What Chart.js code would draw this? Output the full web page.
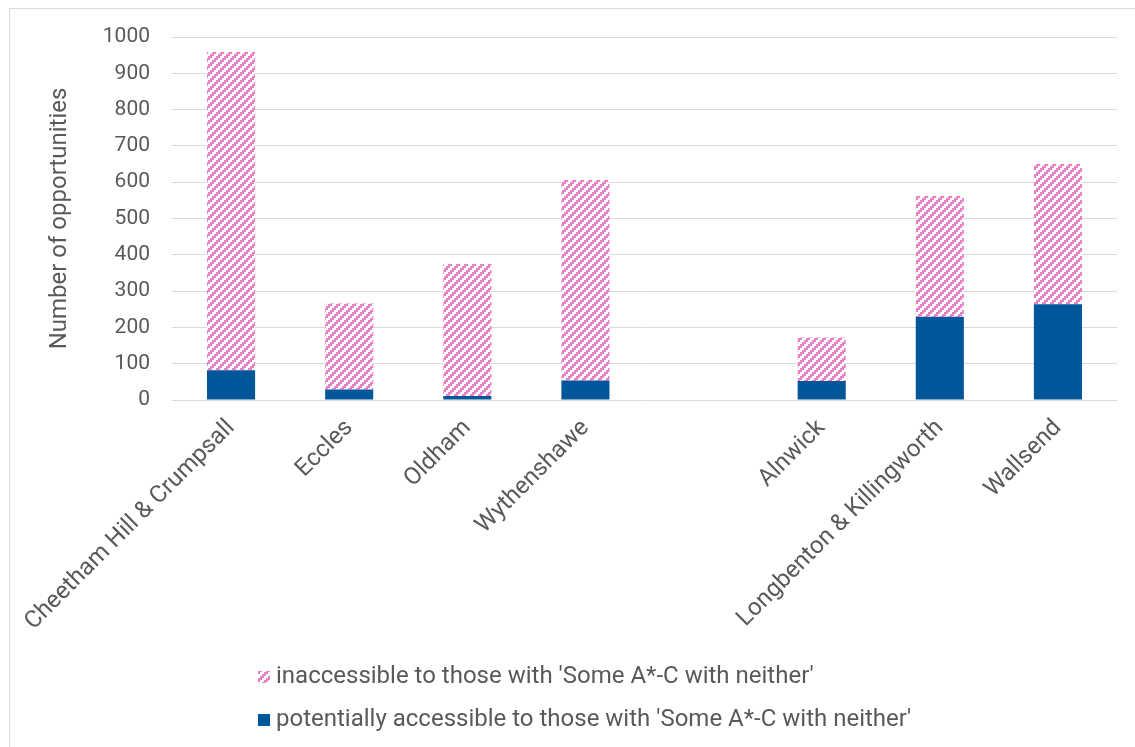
<!DOCTYPE html>
<html>
<head>
<meta charset="utf-8">
<script src="https://cdn.jsdelivr.net/npm/chart.js@4/dist/chart.umd.min.js"></script>
<style>
  html, body { margin: 0; padding: 0; background: #fff; }
  canvas { display: block; }
</style>
</head>
<body>
<canvas id="c" width="1135" height="747"></canvas>
<script>
// Ward categories (blank slot separates the two areas)
const categories = ['Cheetham Hill & Crumpsall', 'Eccles', 'Oldham', 'Wythenshawe', '', 'Alnwick', 'Longbenton & Killingworth', 'Wallsend'];
// Opportunities potentially accessible (lower stack)
const accessible = [82, 29, 11, 54, null, 52, 229, 264];
// Opportunities inaccessible (upper stack)
const inaccessible = [877, 237, 364, 552, null, 120, 333, 386];
// Y axis range and step
const yMin = 0;
const yMax = 1000;
const yStep = 100;

const seriesLabels = [
  "potentially accessible to those with 'Some A*-C with neither'",
  "inaccessible to those with 'Some A*-C with neither'"
];

const TEXT = '#595959';
const FONT = 'Roboto, "Noto Sans", sans-serif';
const BLUE = '#02569A';
const PINK = '#EC80C6';

// Upward diagonal stripe fill
function stripePattern() {
  const pc = document.createElement('canvas');
  pc.width = 8; pc.height = 8;
  const p = pc.getContext('2d');
  p.fillStyle = '#ffffff';
  p.fillRect(0, 0, 8, 8);
  p.fillStyle = PINK;
  for (let y = 0; y < 8; y++) {
    for (let x = 0; x < 8; x++) {
      if (((Math.floor(x / 2) + Math.floor(y / 2)) % 4) < 2) p.fillRect(x, y, 1, 1);
    }
  }
  return document.getElementById('c').getContext('2d').createPattern(pc, 'repeat');
}
const pinkFill = stripePattern();

// White background and outer frame
const framePlugin = {
  id: 'frame',
  beforeDraw(chart) {
    const ctx = chart.ctx;
    ctx.save();
    ctx.fillStyle = '#fff';
    ctx.fillRect(0, 0, chart.width, chart.height);
    ctx.strokeStyle = '#d9d9d9';
    ctx.lineWidth = 1;
    ctx.strokeRect(9.5, 8.5, chart.width + 20, chart.height + 20);
    ctx.restore();
  }
};

// Legend stacked in two rows, left-aligned together
const legendPlugin = {
  id: 'stackLegend',
  afterDraw(chart) {
    const ctx = chart.ctx;
    const ds = chart.data.datasets.slice().reverse();
    const boxX = 258, textX = 276, rows = [677, 720], box = 12;
    ctx.save();
    ctx.font = '24px ' + FONT;
    ctx.textBaseline = 'middle';
    ds.forEach((d, i) => {
      const cy = rows[i];
      ctx.fillStyle = d.backgroundColor;
      ctx.fillRect(boxX, cy - box / 2, box, box);
      ctx.fillStyle = TEXT;
      ctx.fillText(d.label, textX, cy);
    });
    ctx.restore();
  }
};

new Chart(document.getElementById('c'), {
  type: 'bar',
  data: {
    labels: categories,
    datasets: [
      { label: seriesLabels[0], data: accessible, backgroundColor: BLUE, borderWidth: 0 },
      { label: seriesLabels[1], data: inaccessible, backgroundColor: pinkFill, borderWidth: 0 }
    ]
  },
  options: {
    responsive: false,
    animation: false,
    devicePixelRatio: 1,
    categoryPercentage: 1,
    barPercentage: 0.407,
    layout: { padding: { left: 0, right: 18, top: 37, bottom: 107 } },
    plugins: { legend: { display: false }, tooltip: { enabled: false } },
    scales: {
      x: {
        stacked: true,
        grid: { display: false },
        border: { display: false },
        ticks: {
          autoSkip: false, minRotation: 45, maxRotation: 45,
          color: TEXT, font: { family: FONT, size: 24 }, padding: 6
        },
        afterFit(s) { s.height = 240; }
      },
      y: {
        stacked: true,
        min: yMin, max: yMax,
        ticks: {
          stepSize: yStep, color: TEXT, font: { family: FONT, size: 21 }, padding: 22,
          callback: v => String(v)
        },
        grid: { color: '#d9d9d9', lineWidth: 1, drawTicks: false },
        border: { display: false },
        title: {
          display: true, text: 'Number of opportunities',
          color: TEXT, font: { family: FONT, size: 24 }, padding: { top: 46, bottom: 0 }
        },
        afterFit(s) { s.width = 172; }
      }
    }
  },
  plugins: [framePlugin, legendPlugin]
});
</script>
</body>
</html>
